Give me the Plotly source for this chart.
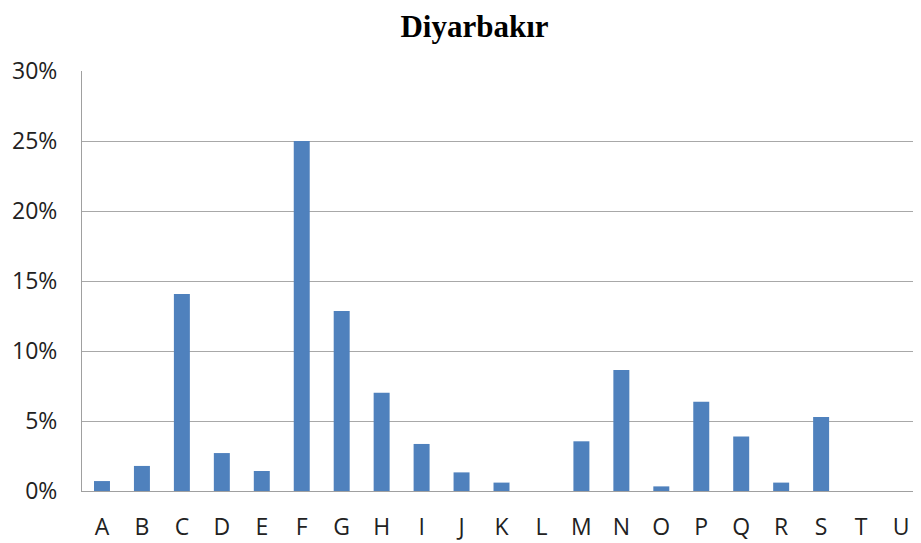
import plotly.graph_objects as go

# Kategoriler ve paylar (%)
categories = ['A', 'B', 'C', 'D', 'E', 'F', 'G', 'H', 'I', 'J', 'K',
              'L', 'M', 'N', 'O', 'P', 'Q', 'R', 'S', 'T', 'U']
shares = [0.71, 1.79, 14.07, 2.71, 1.43, 25.0, 12.86, 7.02, 3.36, 1.33, 0.6,
          0.0, 3.55, 8.64, 0.33, 6.38, 3.9, 0.6, 5.29, 0.0, 0.0]
y_ticks = [0, 5, 10, 15, 20, 25, 30]
y_tick_labels = ['0%', '5%', '10%', '15%', '20%', '25%', '30%']

fig = go.Figure()
fig.add_trace(go.Bar(
    x=categories,
    y=shares,
    width=0.4,
    marker=dict(color='#4F81BD', line=dict(width=0)),
))

# sayfa gövdesi 8px kenar boşluğu bırakıyor, ona göre ayarlandı
fig.update_layout(
    width=913,
    height=535,
    margin=dict(l=74, r=0, t=63, b=52),
    paper_bgcolor='white',
    plot_bgcolor='white',
    showlegend=False,
    title=dict(
        text='<b>Diyarbakır</b>',
        x=0.511, xanchor='center',
        y=0.966, yanchor='middle',
        font=dict(family='Liberation Serif', size=31, color='black'),
    ),
    font=dict(family='Open Sans', size=23, color='#222222'),
)

fig.update_xaxes(
    showline=True, linecolor='#A0A0A0', linewidth=1,
    showgrid=False, automargin=False,
    ticks='', ticklabelstandoff=15,
    tickfont=dict(family='Open Sans', size=23, color='#222222'),
)
fig.update_yaxes(
    range=[0, 30], automargin=False,
    tickvals=y_ticks, ticktext=y_tick_labels,
    showline=True, linecolor='#A0A0A0', linewidth=1,
    showgrid=True, gridcolor='#A8A8A8', gridwidth=1,
    zeroline=False,
    ticks='', ticklabelstandoff=19,
    tickfont=dict(family='Open Sans', size=23, color='#222222'),
)

fig.write_html("out.html")
